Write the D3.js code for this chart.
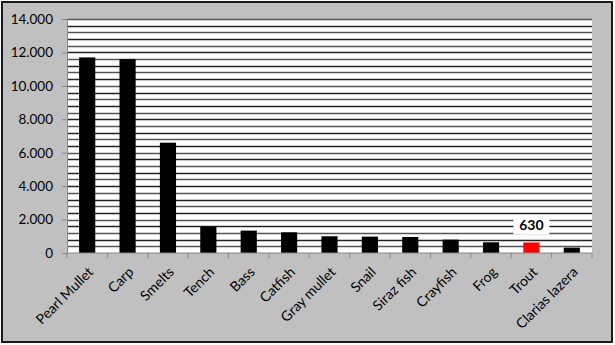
<!DOCTYPE html>
<html>
<head>
<meta charset="utf-8">
<script src="https://cdn.jsdelivr.net/npm/d3@7"></script>
<style>
  body { margin: 0; background: #fff; }
  svg { display: block; }
</style>
</head>
<body>
<svg id="chart" width="615" height="345"></svg>
<script>
var categories = ["Pearl Mullet", "Carp", "Smelts", "Tench", "Bass", "Catfish", "Gray mullet",
                  "Snail", "Siraz fish", "Crayfish", "Frog", "Trout", "Clarias lazera"];
var values = [11700, 11600, 6600, 1580, 1340, 1240, 1000, 980, 960, 800, 640, 630, 320];
var yTicks = [0, 2000, 4000, 6000, 8000, 10000, 12000, 14000];
var highlight = "Trout";

var svg = d3.select("#chart");
var margin = {left: 67, right: 23, top: 19, bottom: 92};
var width = 615 - margin.left - margin.right;
var height = 345 - margin.top - margin.bottom;
var font = "Lato, 'Open Sans', sans-serif";

// chart area background + border
svg.append("rect")
  .attr("x", 2).attr("y", 2).attr("width", 610).attr("height", 340)
  .attr("fill", "#c0c0c0").attr("stroke", "#1a1a1a").attr("stroke-width", 2);

var g = svg.append("g").attr("transform", "translate(" + margin.left + "," + margin.top + ")");

var x = d3.scaleBand().domain(categories).range([0, width]).paddingInner(0.6).paddingOuter(0.3);
var y = d3.scaleLinear().domain([0, 14000]).range([height, 0]);

g.append("rect")
  .attr("width", width).attr("height", height)
  .attr("fill", "#fff");

// minor gridlines every 400
var grid = d3.range(400, 14001, 400);
g.selectAll(".grid").data(grid).enter().append("line")
  .attr("x1", 0).attr("x2", width)
  .attr("y1", function(d) { return Math.round(y(d)) + 0.5; })
  .attr("y2", function(d) { return Math.round(y(d)) + 0.5; })
  .attr("stroke", function(d, i) { return i % 2 ? "#222" : "#555"; })
  .attr("stroke-width", 1.3);

g.selectAll(".bar").data(values).enter().append("rect")
  .attr("x", function(d, i) { return x(categories[i]); })
  .attr("y", function(d) { return y(d); })
  .attr("width", x.bandwidth())
  .attr("height", function(d) { return height - y(d); })
  .attr("fill", function(d, i) { return categories[i] == highlight ? "#ff0000" : "#000"; });

// y axis
var yAxis = g.append("g")
  .call(d3.axisLeft(y).tickValues(yTicks).tickSize(5).tickPadding(9)
    .tickFormat(function(d) { return d3.format(",")(d).replace(/,/g, "."); }));
yAxis.select(".domain").attr("stroke", "#888");
yAxis.selectAll(".tick line").attr("stroke", "#888");
yAxis.selectAll("text").attr("font-family", font).attr("font-size", "13.5px").attr("fill", "#000");

// x axis: ticks on category boundaries
var step = width / categories.length;
var xAxis = g.append("g").attr("transform", "translate(0," + height + ")");
xAxis.append("line").attr("x1", 0).attr("x2", width).attr("stroke", "#888");
xAxis.selectAll(".xt").data(d3.range(categories.length + 1)).enter().append("line")
  .attr("x1", function(d) { return d * step; }).attr("x2", function(d) { return d * step; })
  .attr("y1", 0).attr("y2", 5).attr("stroke", "#888");
xAxis.selectAll(".xl").data(categories).enter().append("text")
  .attr("transform", function(d) {
    return "translate(" + (x(d) + x.bandwidth() / 2) + ",13) rotate(-45)";
  })
  .attr("text-anchor", "end")
  .attr("dy", "0.7em")
  .attr("font-family", font).attr("font-size", "14px")
  .text(function(d) { return d; });

// data label for highlighted bar
var hi = categories.indexOf(highlight);
var lx = x(highlight) + x.bandwidth() / 2, ly = y(values[hi]) - 17;
g.append("rect").attr("x", lx - 18).attr("y", ly - 9).attr("width", 36).attr("height", 18).attr("fill", "#fff");
g.append("text").attr("x", lx).attr("y", ly).attr("dy", "0.35em")
  .attr("text-anchor", "middle").attr("font-family", font)
  .attr("font-weight", "bold").attr("font-size", "14px")
  .text(values[hi]);
</script>
</body>
</html>
